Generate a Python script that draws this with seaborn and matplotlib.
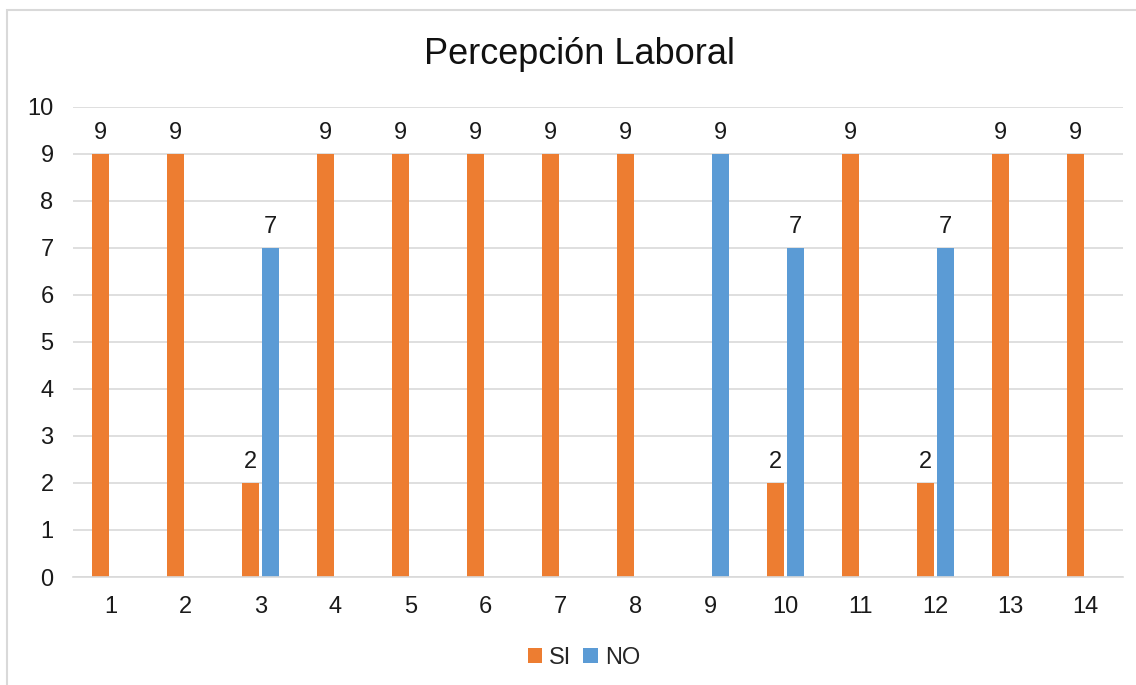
import matplotlib
matplotlib.use("Agg")
import matplotlib.pyplot as plt
import seaborn as sns
import pandas as pd
from matplotlib.patches import Rectangle, Patch

categories = [str(i) for i in range(1, 15)]
si_values = [9, 9, 2, 9, 9, 9, 9, 9, 0, 2, 9, 2, 9, 9]
no_values = [0, 0, 7, 0, 0, 0, 0, 0, 9, 7, 0, 7, 0, 0]
series_names = ["SI", "NO"]
title = "Percepción Laboral"
y_ticks = list(range(0, 11))

colors = {"SI": "#ED7D31", "NO": "#5B9BD5"}

df = pd.DataFrame({
    "cat": categories * 2,
    "serie": ["SI"] * len(categories) + ["NO"] * len(categories),
    "valor": si_values + no_values,
})

sns.set_theme(style="white")
plt.rcParams["font.family"] = ["Liberation Sans", "DejaVu Sans"]

W, H = 1136, 685
fig = plt.figure(figsize=(W / 100, H / 100), dpi=100)
ax = fig.add_axes([73 / W, 1 - 577 / H, (1123 - 73) / W, (577 - 107) / H])

sns.barplot(data=df, x="cat", y="valor", hue="serie", hue_order=series_names,
            palette=colors, order=categories, width=0.52, gap=0.12,
            saturation=1, ax=ax, legend=False, linewidth=0)

ax.set_ylim(0, 10)
ax.set_xlim(-0.5, len(categories) - 0.5)
ax.set_yticks(y_ticks)
ax.set_axisbelow(True)
ax.yaxis.grid(True, color="#d9d9d9", linewidth=1.2)
ax.xaxis.grid(False)
for s in ["left", "right", "top"]:
    ax.spines[s].set_visible(False)
ax.spines["bottom"].set_color("#d9d9d9")
ax.spines["bottom"].set_linewidth(1.2)
ax.tick_params(axis="y", length=0, pad=14, labelsize=17, labelcolor="#1a1a1a")
ax.tick_params(axis="x", length=0, pad=14, labelsize=17, labelcolor="#1a1a1a")
ax.set_xlabel("")
ax.set_ylabel("")

for cont in ax.containers:
    labels = [f"{int(b.get_height())}" if b.get_height() > 0 else "" for b in cont]
    ax.bar_label(cont, labels=labels, padding=7, fontsize=17, color="#1a1a1a")

fig.text(579 / W, 1 - 55 / H, title, ha="center", va="center", fontsize=26, color="#111111")

handles = [Patch(facecolor=colors[n], edgecolor="none") for n in series_names]
fig.legend(handles, series_names, loc="center", bbox_to_anchor=(584 / W, 1 - 658 / H),
           ncol=2, frameon=False, fontsize=17, handlelength=0.6, handleheight=0.6,
           handletextpad=0.3, columnspacing=0.5)

fig.patches.append(Rectangle((7 / W, -0.05), 1.2, 1 - 10 / H + 0.05, transform=fig.transFigure,
                             fill=False, edgecolor="#d9d9d9", linewidth=1.5))

fig.savefig("out.png", dpi=100, facecolor="white")
